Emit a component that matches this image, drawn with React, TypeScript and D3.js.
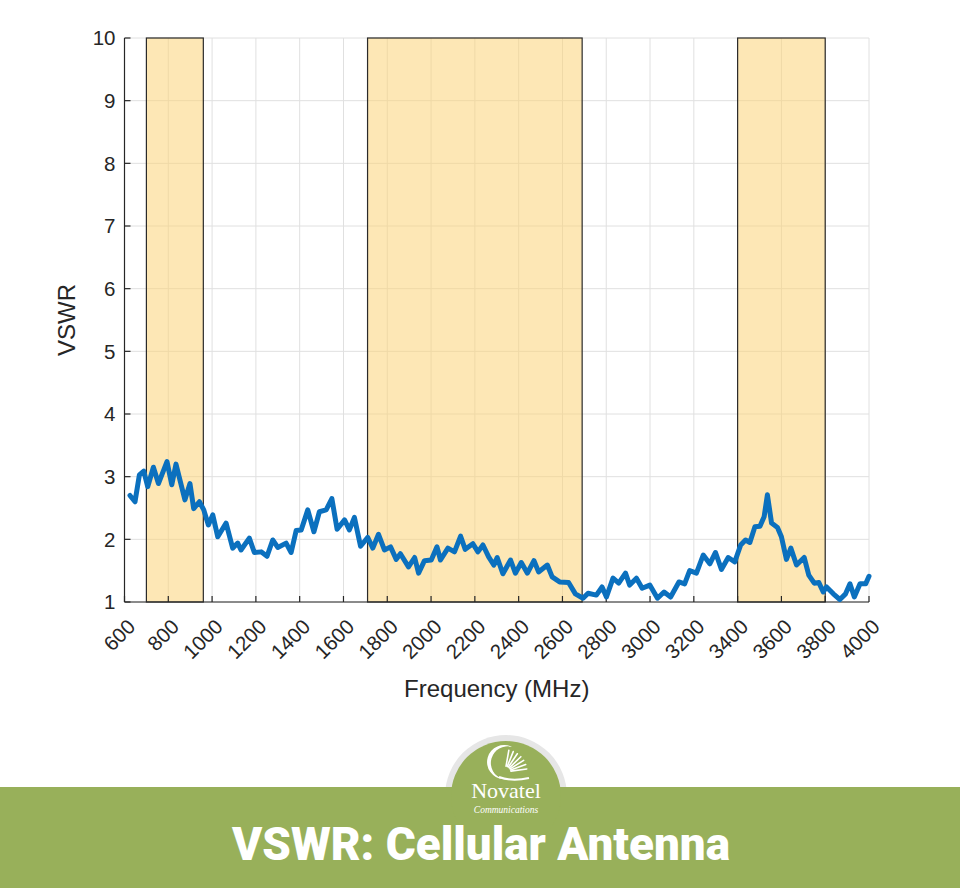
import React from 'react';
import * as d3 from 'd3';

const freqMHz = [
  625, 648, 668, 688, 706, 732, 755, 794, 816, 835, 876, 899, 916, 942, 962, 983,
  1003, 1026, 1064, 1094, 1117, 1132, 1170, 1193, 1224, 1251, 1277, 1300, 1338, 1361, 1384, 1407,
  1437, 1465, 1490, 1521, 1547, 1571, 1605, 1627, 1650, 1678, 1711, 1734, 1760, 1787, 1815, 1841,
  1860, 1897, 1925, 1943, 1970, 2001, 2027, 2043, 2077, 2107, 2135, 2156, 2191, 2214, 2237, 2263,
  2287, 2302, 2328, 2363, 2385, 2412, 2440, 2470, 2491, 2531, 2553, 2587, 2628, 2659, 2694, 2717,
  2755, 2781, 2801, 2831, 2857, 2888, 2907, 2938, 2964, 2999, 3034, 3064, 3094, 3132, 3158, 3181,
  3212, 3243, 3273, 3299, 3326, 3357, 3387, 3414, 3436, 3456, 3479, 3502, 3521, 3536, 3555, 3582,
  3600, 3623, 3643, 3669, 3704, 3725, 3750, 3771, 3791, 3806, 3837, 3867, 3893, 3913, 3933, 3959,
  3985, 4000,
];
const vswr = [
  2.70, 2.60, 3.03, 3.09, 2.84, 3.15, 2.89, 3.24, 2.87, 3.20, 2.63, 2.89, 2.49, 2.60, 2.47, 2.23,
  2.39, 2.04, 2.26, 1.86, 1.94, 1.83, 2.02, 1.79, 1.80, 1.73, 1.99, 1.87, 1.94, 1.79, 2.14, 2.15,
  2.47, 2.12, 2.44, 2.47, 2.65, 2.16, 2.31, 2.15, 2.35, 1.89, 2.03, 1.86, 2.08, 1.83, 1.88, 1.68,
  1.77, 1.56, 1.71, 1.46, 1.66, 1.67, 1.88, 1.67, 1.86, 1.80, 2.05, 1.84, 1.93, 1.80, 1.91, 1.72,
  1.59, 1.71, 1.45, 1.67, 1.46, 1.63, 1.46, 1.66, 1.48, 1.59, 1.40, 1.32, 1.31, 1.13, 1.06, 1.14,
  1.11, 1.24, 1.08, 1.38, 1.30, 1.46, 1.27, 1.38, 1.22, 1.27, 1.06, 1.16, 1.08, 1.32, 1.29, 1.50,
  1.46, 1.75, 1.61, 1.79, 1.52, 1.71, 1.64, 1.91, 1.99, 1.95, 2.20, 2.21, 2.36, 2.71, 2.26, 2.19,
  2.04, 1.68, 1.86, 1.59, 1.71, 1.43, 1.30, 1.31, 1.16, 1.24, 1.13, 1.04, 1.13, 1.29, 1.08, 1.29,
  1.29, 1.41,
];

// cellular bands (MHz)
const bandStart = [700, 1710, 3400];
const bandEnd = [960, 2690, 3800];

const xTicks = d3.range(600, 4001, 200);
const yTicks = d3.range(1, 11, 1);

const title = 'VSWR: Cellular Antenna';
const xLabel = 'Frequency (MHz)';
const yLabel = 'VSWR';

const W = 960;
const H = 888;
const axisFont = '"Liberation Sans", Arial, Helvetica, sans-serif';

export default function App() {
  const x = d3.scaleLinear().domain([600, 4000]).range([124.5, 869]);
  const y = d3.scaleLinear().domain([1, 10]).range([602, 38]);

  const pts = freqMHz.map((f, i) => [f, vswr[i]] as [number, number]);
  const line = d3
    .line<[number, number]>()
    .x((d) => x(d[0]))
    .y((d) => y(d[1]));

  const [x0, x1] = x.range();
  const [yb, yt] = y.range();

  return (
    <svg
      width={W}
      height={H}
      style={{ position: 'absolute', left: 0, top: 0, background: '#fff' }}
      fontFamily={axisFont}
    >
      {/* grid */}
      <g stroke="#e0e0e0" strokeWidth={1}>
        {xTicks.map((t) => (
          <line key={'gx' + t} x1={x(t)} x2={x(t)} y1={yt} y2={yb} />
        ))}
        {yTicks.map((t) => (
          <line key={'gy' + t} x1={x0} x2={x1} y1={y(t)} y2={y(t)} />
        ))}
      </g>

      {/* bands */}
      {bandStart.map((s, i) => (
        <rect
          key={'b' + i}
          x={x(s)}
          y={yt}
          width={x(bandEnd[i]) - x(s)}
          height={yb - yt}
          fill="#fcd478"
          fillOpacity={0.55}
          stroke="#2a2a2a"
          strokeWidth={1.2}
        />
      ))}

      {/* axes */}
      <g stroke="#262626" strokeWidth={1.2}>
        <line x1={x0} x2={x0} y1={yt} y2={yb} />
        <line x1={x0} x2={x1} y1={yb} y2={yb} />
        {xTicks.map((t) => (
          <line key={'tx' + t} x1={x(t)} x2={x(t)} y1={yb} y2={yb - 6} />
        ))}
        {yTicks.map((t) => (
          <line key={'ty' + t} x1={x0} x2={x0 + 6} y1={y(t)} y2={y(t)} />
        ))}
      </g>

      {/* data */}
      <path
        d={line(pts) || ''}
        fill="none"
        stroke="#0b70be"
        strokeWidth={5}
        strokeLinejoin="round"
        strokeLinecap="round"
      />

      {/* tick labels */}
      <g fill="#262626" fontSize={20.5}>
        {yTicks.map((t) => (
          <text key={'ly' + t} x={x0 - 9} y={y(t)} dy="0.36em" textAnchor="end">
            {t}
          </text>
        ))}
        {xTicks.map((t) => (
          <text
            key={'lx' + t}
            textAnchor="end"
            transform={`translate(${x(t) + 12},${yb + 26}) rotate(-45)`}
          >
            {t}
          </text>
        ))}
      </g>
      <text x={(x0 + x1) / 2} y={697} textAnchor="middle" fontSize={24} fill="#262626">
        {xLabel}
      </text>
      <text
        transform={`translate(75,${(yt + yb) / 2}) rotate(-90)`}
        textAnchor="middle"
        fontSize={24}
        fill="#262626"
      >
        {yLabel}
      </text>

      {/* footer */}
      <circle cx={506} cy={796} r={61} fill="#e6e6e6" />
      <rect x={0} y={787} width={W} height={H - 787} fill="#98b05a" />
      <circle cx={506} cy={796} r={55} fill="#98b05a" />

      {/* logo mark */}
      <g fill="#fff" stroke="none">
        <path d="M 512 747 A 17 17 0 1 0 503 779 A 14 14 0 1 1 512 747 Z" />
      </g>
      <g stroke="#fff" strokeWidth={1.6} strokeLinecap="round">
        {d3.range(0, 7).map((i) => {
          const a = (-80 + i * 12) * (Math.PI / 180);
          return (
            <line
              key={'fan' + i}
              x1={505 + 6 * Math.cos(a)}
              y1={772 + 6 * Math.sin(a)}
              x2={505 + 22 * Math.cos(a)}
              y2={772 + 22 * Math.sin(a)}
            />
          );
        })}
      </g>
      <path d="M 499 777 Q 512 782 529 778" stroke="#fff" strokeWidth={2} fill="none" />
      <text
        x={506}
        y={798}
        textAnchor="middle"
        fontFamily='"Liberation Serif", "DejaVu Serif", serif'
        fontSize={22}
        fill="#fff"
      >
        Novatel
      </text>
      <text
        x={506}
        y={813}
        textAnchor="middle"
        fontFamily='"Liberation Serif", serif'
        fontStyle="italic"
        fontSize={9.5}
        fill="#fff"
      >
        Communications
      </text>

      <text
        x={481}
        y={860}
        textAnchor="middle"
        fontFamily='Roboto, "Open Sans", sans-serif'
        fontWeight={900}
        fontSize={46}
        fill="#fff"
        textLength={498}
        lengthAdjust="spacingAndGlyphs"
      >
        {title}
      </text>
    </svg>
  );
}
